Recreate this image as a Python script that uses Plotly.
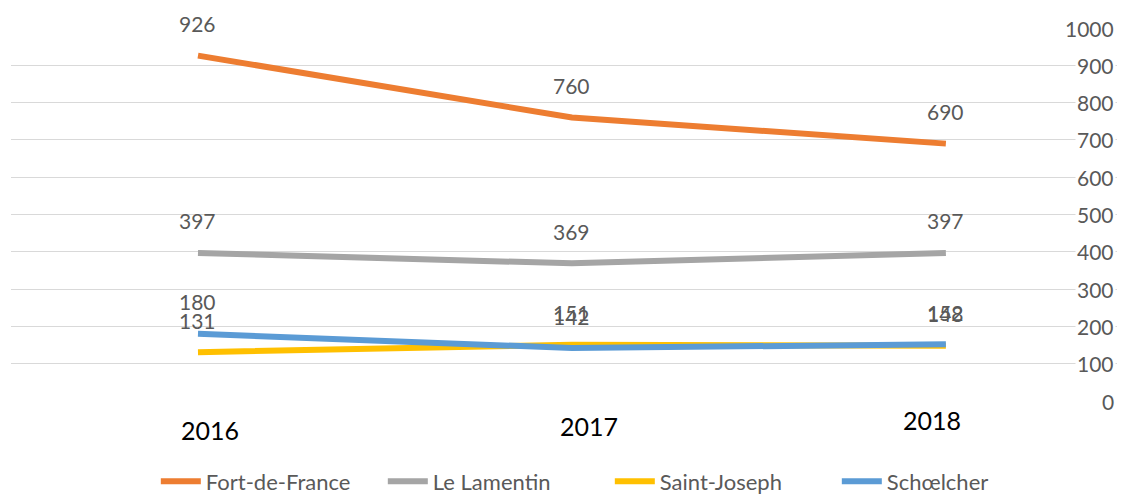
import plotly.graph_objects as go

years = ["2016", "2017", "2018"]
series_names = ["Fort-de-France", "Le Lamentin", "Saint-Joseph", "Schœlcher"]
fort_de_france = [926, 760, 690]
le_lamentin = [397, 369, 397]
saint_joseph = [131, 151, 148]
schoelcher = [180, 142, 152]
y_ticks = [0, 100, 200, 300, 400, 500, 600, 700, 800, 900, 1000]

colors = ["#ED7D31", "#A5A5A5", "#FFC000", "#5B9BD5"]
values = [fort_de_france, le_lamentin, saint_joseph, schoelcher]
FONT = "Lato, sans-serif"

x_idx = list(range(len(years)))
fig = go.Figure()
for name, vals, col in zip(series_names, values, colors):
    fig.add_trace(go.Scatter(
        x=x_idx, y=vals, mode="lines", name=name,
        line=dict(color=col, width=6),
    ))

annotations = []
for vals in values:
    for xi, v in zip(x_idx, vals):
        annotations.append(dict(
            x=xi, y=v, xref="x", yref="y", text=str(v), showarrow=False,
            yshift=32, font=dict(family=FONT, size=21, color="#595959"),
        ))

# category labels (staggered as in the original)
cat_yshift = [-12, -8, -2]
cat_xshift = [12, 17, -14]
for xi, lab, ys, xs in zip(x_idx, years, cat_yshift, cat_xshift):
    annotations.append(dict(
        x=xi, y=0, xref="x", yref="y", text=lab, showarrow=False,
        yshift=ys, xshift=xs, yanchor="top",
        font=dict(family=FONT, size=25, color="#000000"),
    ))

# right-aligned value axis labels, drawn over the gridlines
for t in y_ticks:
    annotations.append(dict(
        x=1.0, y=t, xref="paper", yref="y", text=str(t), showarrow=False,
        xanchor="right", xshift=-9, bgcolor="white", borderpad=1,
        font=dict(family=FONT, size=21, color="#595959"),
    ))

# the page adds an 8px body margin, so the figure is 8px smaller
fig.update_layout(
    width=1117, height=488,
    margin=dict(l=3, r=0, t=20, b=95, autoexpand=False),
    paper_bgcolor="white", plot_bgcolor="white",
    annotations=annotations,
    showlegend=True,
    legend=dict(orientation="h", x=0.130, xanchor="left", y=-0.216, yanchor="middle",
                font=dict(family=FONT, size=22, color="#595959"),
                entrywidth=172, entrywidthmode="pixels", itemwidth=40,
                tracegroupgap=0, bgcolor="rgba(0,0,0,0)"),
    xaxis=dict(range=[-0.5, 2.479], showgrid=False, zeroline=False,
               showticklabels=False, showline=False, fixedrange=True),
    yaxis=dict(range=[0, 1000], tickvals=y_ticks, showticklabels=False,
               gridcolor="#D9D9D9", gridwidth=1, zeroline=False, showline=False),
)

fig.write_html("out.html")
